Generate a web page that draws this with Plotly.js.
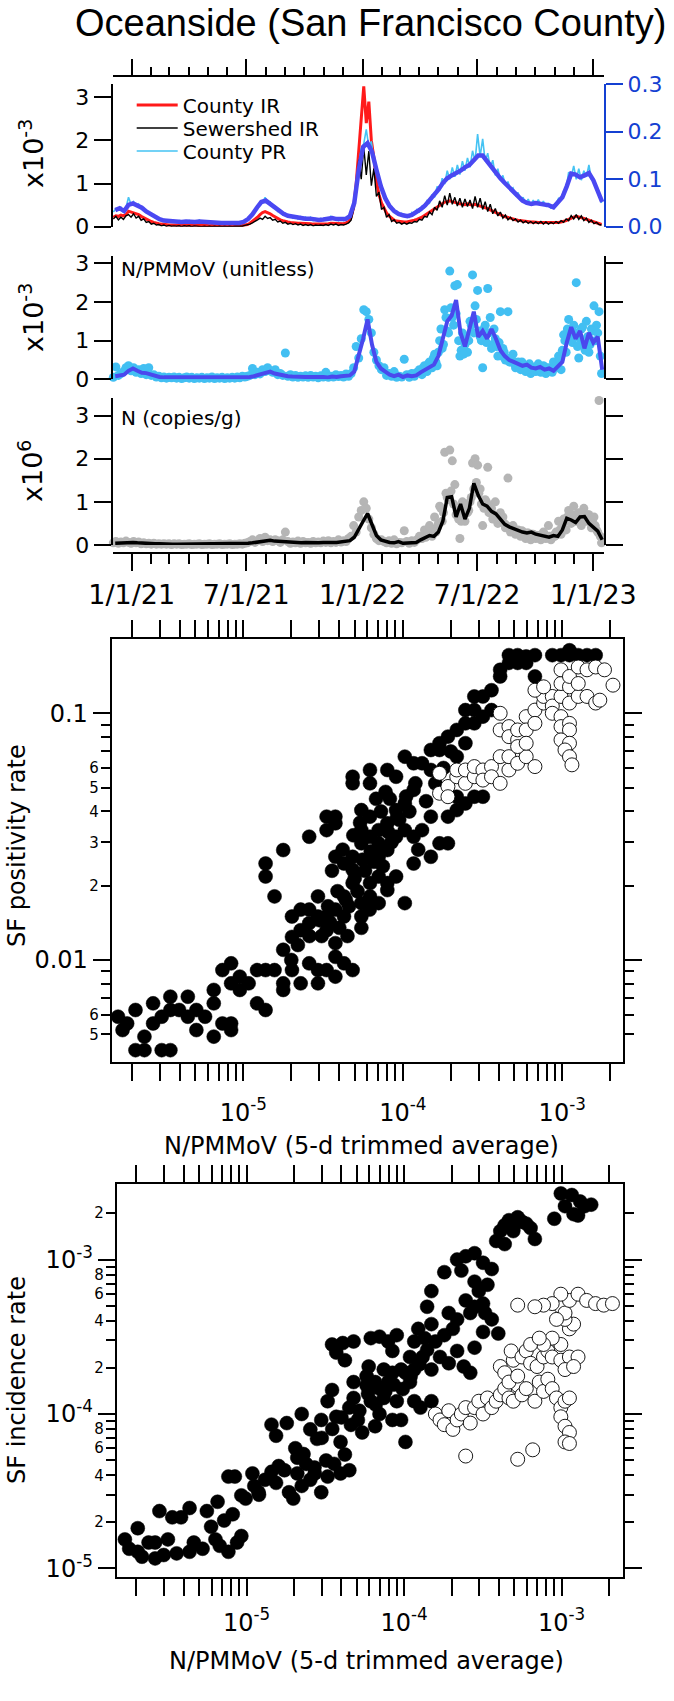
<!DOCTYPE html>
<html><head><meta charset="utf-8">
<script src="https://cdn.plot.ly/plotly-3.0.1.min.js"></script>
<style>html,body{margin:0;padding:0;background:#fff}#plot{width:674px;height:1701px}</style>
</head><body><div id="plot"></div>
<script>
// ---------------- DATA ----------------
// 4-day sampling starting 2020-12-03 ; weekly sampling starting 2020-12-06 ; extra 4-day samples from 2022-04-03
const start4 = '2020-12-03';
const start7 = '2020-12-06';
const start4b = '2022-04-03';

// County positivity rate (raw, right axis)
const countyPR = [
0.031,0.038,0.036,0.041,0.030,0.040,0.062,0.047,0.053,0.044,
0.048,0.038,0.040,0.030,0.031,0.024,0.024,0.018,0.019,0.013,
0.015,0.011,0.014,0.010,0.012,0.009,0.013,0.009,0.012,0.010,
0.013,0.009,0.012,0.010,0.014,0.009,0.011,0.008,0.011,0.008,
0.010,0.007,0.010,0.007,0.009,0.006,0.009,0.007,0.010,0.007,
0.010,0.009,0.013,0.014,0.022,0.025,0.036,0.038,0.052,0.050,
0.062,0.050,0.052,0.041,0.043,0.032,0.034,0.025,0.028,0.021,
0.024,0.018,0.022,0.016,0.021,0.015,0.020,0.015,0.020,0.013,
0.017,0.012,0.017,0.013,0.018,0.014,0.022,0.016,0.019,0.013,
0.018,0.013,0.019,0.018,0.030,0.045,0.085,0.125,0.165,0.175,
0.205,0.168,0.180,0.138,0.128,0.095,0.088,0.062,0.060,0.042,
0.043,0.031,0.033,0.025,0.028,0.021,0.025,0.020,0.030,0.026,
0.036,0.031,0.043,0.040,0.055,0.050,0.068,0.062,0.085,0.076,
0.102,0.090,0.118,0.100,0.125,0.105,0.130,0.110,0.138,0.118,
0.145,0.125,0.160,0.138,0.195,0.148,0.185,0.138,0.155,0.125,
0.140,0.108,0.122,0.098,0.108,0.088,0.095,0.078,0.082,0.066,
0.072,0.055,0.062,0.048,0.058,0.046,0.056,0.047,0.057,0.045,
0.054,0.042,0.050,0.038,0.046,0.048,0.060,0.058,0.075,0.080,
0.115,0.105,0.128,0.100,0.122,0.098,0.118,0.105,0.130,0.100,
0.098,0.080,0.068,0.050];

// County positivity rate, smoothed (weekly)
const countyPRavg = [
0.035,0.039,0.033,0.046,0.049,0.045,0.040,0.032,0.026,0.021,
0.016,0.013,0.012,0.011,0.010,0.010,0.011,0.010,0.010,0.011,
0.010,0.009,0.009,0.008,0.008,0.008,0.007,0.008,0.008,0.010,
0.016,0.026,0.040,0.052,0.055,0.048,0.040,0.032,0.027,0.023,
0.021,0.019,0.018,0.017,0.017,0.015,0.014,0.015,0.016,0.018,
0.016,0.015,0.016,0.022,0.050,0.120,0.168,0.176,0.158,0.120,
0.085,0.060,0.043,0.033,0.027,0.024,0.022,0.025,0.030,0.037,
0.045,0.055,0.067,0.078,0.092,0.102,0.108,0.112,0.118,0.125,
0.130,0.140,0.150,0.150,0.138,0.126,0.112,0.102,0.092,0.083,
0.072,0.063,0.055,0.050,0.048,0.050,0.049,0.048,0.045,0.041,
0.052,0.062,0.085,0.112,0.110,0.104,0.108,0.113,0.098,0.075,
0.052];

// County incidence rate (x1e-3)
const countyIR = [
0.22,0.25,0.24,0.27,0.25,0.28,0.36,0.34,0.33,0.30,
0.28,0.24,0.21,0.17,0.15,0.12,0.10,0.08,0.07,0.06,
0.05,0.05,0.04,
0.04,0.04,0.04,0.03,0.04,0.04,0.03,0.04,0.03,0.04,
0.04,0.03,0.03,0.03,0.03,0.02,0.03,0.02,0.02,0.02,
0.02,0.02,0.02,0.02,0.02,0.02,0.02,0.03,0.03,0.04,
0.05,0.08,0.12,0.17,0.22,0.28,0.33,0.35,0.33,0.30,
0.26,0.22,0.19,0.16,0.14,0.12,0.11,0.10,0.09,0.09,
0.08,0.08,0.08,0.07,0.07,0.07,0.06,0.06,0.06,0.06,
0.06,0.07,0.07,0.08,0.08,0.08,0.07,0.07,0.07,0.09,
0.12,
0.22,0.45,1.00,1.80,2.60,3.25,2.40,2.90,2.00,1.60,
1.05,0.75,0.55,0.42,0.32,0.25,0.19,0.15,0.13,0.12,
0.11,0.11,0.11,0.12,0.13,0.15,0.17,
0.19,0.22,0.26,0.30,0.34,0.38,0.42,0.47,0.51,0.55,
0.57,0.58,0.60,0.58,0.56,0.55,0.53,0.52,0.51,0.53,
0.52,0.50,0.52,0.50,0.48,0.47,0.45,0.42,0.39,0.36,
0.33,0.30,0.27,0.25,0.23,0.21,0.19,0.18,0.16,
0.15,0.14,0.13,0.12,0.12,0.11,0.11,0.10,0.10,0.10,
0.10,0.09,0.09,0.09,0.09,0.10,0.10,0.11,0.12,0.14,
0.17,0.20,0.22,0.24,0.23,0.21,0.19,0.17,0.15,0.13,
0.11,0.09,0.07,0.05];

// Sewershed incidence rate (x1e-3)
const sewershedIR = [
0.18,0.24,0.16,0.22,0.17,0.25,0.28,0.22,0.30,0.20,
0.24,0.15,0.18,0.10,0.12,0.06,0.08,0.04,0.05,0.02,
0.04,0.01,0.03,
0.01,0.02,0.01,0.02,0.00,0.02,0.01,0.02,0.00,0.02,
0.01,0.01,0.00,0.01,0.00,0.01,0.00,0.01,0.00,0.01,
0.00,0.01,0.00,0.01,0.00,0.01,0.01,0.02,0.01,0.03,
0.04,0.06,0.09,0.12,0.16,0.20,0.17,0.24,0.19,0.21,
0.15,0.17,0.11,0.13,0.08,0.10,0.06,0.08,0.05,0.07,
0.04,0.06,0.03,0.05,0.03,0.05,0.02,0.04,0.03,0.04,
0.03,0.05,0.03,0.06,0.04,0.06,0.03,0.05,0.04,0.06,
0.09,
0.15,0.40,0.80,1.55,1.10,1.85,1.20,1.75,0.95,1.35,
0.70,0.80,0.40,0.45,0.22,0.28,0.12,0.16,0.08,0.10,
0.06,0.09,0.06,0.09,0.08,0.12,0.11,
0.17,0.15,0.24,0.22,0.34,0.28,0.45,0.38,0.60,0.45,
0.72,0.50,0.78,0.52,0.68,0.48,0.66,0.45,0.64,0.47,
0.62,0.42,0.70,0.45,0.66,0.40,0.58,0.35,0.52,0.30,
0.42,0.25,0.34,0.20,0.27,0.16,0.22,0.14,0.18,
0.11,0.15,0.09,0.13,0.08,0.12,0.07,0.11,0.07,0.12,
0.06,0.11,0.06,0.10,0.07,0.12,0.08,0.14,0.10,0.18,
0.14,0.26,0.18,0.28,0.17,0.25,0.14,0.20,0.10,0.15,
0.07,0.10,0.05,0.04];

// N/PMMoV raw samples (x1e-3)
const npmmovRaw = [
0.05,0.32,0.10,0.15,0.20,0.30,0.35,0.22,0.30,0.18,
0.25,0.15,0.28,0.12,0.30,0.10,0.12,0.06,0.08,0.04,
0.06,0.03,0.05,
0.04,0.06,0.03,0.05,0.02,0.04,0.06,0.03,0.05,0.02,
0.04,0.03,0.05,0.02,0.04,0.03,0.06,0.02,0.04,0.03,
0.05,0.02,0.04,0.03,0.05,0.03,0.06,0.04,0.08,0.06,
0.08,0.10,0.28,0.12,0.18,0.14,0.25,0.20,0.30,0.22,
0.18,0.25,0.12,0.15,0.10,0.68,0.08,0.12,0.06,0.10,
0.05,0.08,0.06,0.09,0.05,0.10,0.06,0.08,0.04,0.09,
0.06,0.18,0.05,0.08,0.06,0.12,0.07,0.10,0.06,0.14,
0.08,
0.15,0.30,0.85,0.55,1.05,1.80,1.75,1.55,1.20,0.70,
0.50,0.35,0.25,0.30,0.10,0.15,0.08,0.20,0.05,0.08,
0.06,0.52,0.12,0.05,0.15,0.08,0.18,
0.25,0.12,0.35,0.20,0.45,0.30,0.65,0.35,1.00,0.80,
1.80,1.25,2.80,1.60,2.42,2.45,0.60,1.20,0.90,0.70,
1.50,2.70,1.90,2.30,1.10,0.30,1.40,2.35,1.60,0.90,
1.05,0.60,1.75,0.80,0.50,1.75,0.45,0.65,0.30,
0.45,0.25,0.40,0.20,0.35,0.15,0.30,0.20,0.40,0.18,
0.35,0.15,0.30,0.25,0.45,0.35,0.60,0.25,1.15,0.70,
1.55,1.20,1.40,2.50,0.55,1.30,0.90,1.50,0.70,1.30,
1.90,1.40,1.75,0.15];
// extra N/PMMoV samples, 2022-04-03 onward (x1e-3)
const npmmovRaw2 = [
0.18,0.30,0.25,0.40,0.35,0.55,0.45,
0.70,1.30,0.90,1.60,1.20,1.85,1.40,1.70,
1.00,0.75,0.65,1.10,1.00,1.40,1.20,1.55,
1.25,1.00,1.30,0.95,1.20,0.80,1.30,
0.85,0.95,0.60,0.70,0.55,0.45,0.50,0.40,
0.35,0.30,0.45,0.30,0.25,0.40,0.28,0.22,
0.30,0.25,0.20,0.32,0.22,0.28,0.18,
0.30,0.40,0.50,0.75,1.00,1.30,1.10,0.95,
1.20,0.85,1.05,1.35,0.75,1.10,0.90,1.25,
1.00,1.20,0.60];

// N/PMMoV trimmed average (weekly, x1e-3)
const npmmovAvg = [
0.08,0.10,0.12,0.22,0.28,0.22,0.17,0.16,0.12,0.10,
0.06,0.05,0.05,0.04,0.04,0.04,0.03,0.03,0.03,0.03,
0.03,0.03,0.03,0.03,0.03,0.03,0.03,0.03,0.04,0.05,
0.05,0.07,0.10,0.15,0.18,0.20,0.15,0.12,0.10,0.08,
0.07,0.06,0.07,0.06,0.06,0.05,0.06,0.06,0.05,0.07,
0.06,0.08,0.09,0.10,0.20,0.60,1.05,1.55,0.90,0.45,
0.28,0.20,0.12,0.08,0.12,0.06,0.10,0.08,0.10,0.18,
0.25,0.32,0.38,0.60,1.10,1.50,1.65,2.05,1.20,0.85,
1.30,1.75,1.10,1.25,1.05,1.30,1.05,0.75,0.60,0.50,
0.45,0.40,0.35,0.38,0.30,0.28,0.32,0.25,0.28,0.22,
0.35,0.45,0.95,1.35,1.05,1.25,0.80,1.20,0.95,1.10,
0.25];

// N (copies/g) raw samples (x1e6)
const nRaw = [
0.05,0.08,0.04,0.07,0.05,0.09,0.06,0.04,0.08,0.05,
0.07,0.03,0.05,0.03,0.04,0.02,0.04,0.02,0.03,0.02,
0.03,0.02,0.03,0.01,0.03,0.02,0.03,0.01,0.02,0.02,
0.03,0.01,0.02,0.02,0.03,0.01,0.02,0.02,0.03,0.01,
0.02,0.02,0.03,0.01,0.02,0.02,0.03,0.01,0.02,0.02,
0.03,0.02,0.04,
0.05,0.08,0.12,0.06,0.10,0.15,0.08,0.18,0.10,0.12,
0.08,0.12,0.10,0.06,0.12,0.30,0.08,0.04,0.07,0.05,
0.09,0.04,0.08,0.05,0.06,0.04,0.08,0.05,0.07,0.05,
0.09,0.06,0.10,0.05,0.08,0.06,0.12,0.07,0.10,0.08,
0.15,
0.20,0.45,0.30,0.65,0.80,1.00,0.85,0.60,0.40,0.25,
0.15,0.10,0.12,0.08,0.05,0.10,0.04,0.12,0.03,0.06,
0.05,0.33,0.08,0.04,0.10,0.06,0.12,
0.20,0.15,0.35,0.25,0.45,0.20,0.65,0.40,0.90,0.55,
2.15,1.10,2.20,1.95,1.40,0.80,0.15,1.00,0.55,0.75,
1.00,1.90,2.00,1.85,1.30,0.45,1.05,1.80,0.90,0.60,
1.00,0.50,0.75,0.65,0.40,1.55,0.30,0.45,0.25,
0.35,0.20,0.30,0.15,0.28,0.12,0.25,0.15,0.22,0.12,
0.30,0.15,0.45,0.12,0.22,0.30,0.55,0.25,0.60,0.35,
0.80,0.50,0.90,0.55,0.75,0.45,0.85,0.55,0.70,0.40,
0.65,0.35,3.35,0.05];
// extra N samples, 2022-04-03 onward (x1e6)
const nRaw2 = [
0.15,0.22,0.18,0.28,0.25,0.35,0.30,
0.50,0.85,0.75,1.20,1.05,1.25,0.95,0.70,
0.60,0.55,0.70,0.90,0.80,1.10,1.30,1.45,
1.20,0.95,0.85,1.00,0.75,0.85,0.70,
0.65,0.60,0.55,0.50,0.45,0.40,0.42,0.35,
0.30,0.28,0.33,0.25,0.28,0.22,0.25,0.20,
0.22,0.18,0.20,0.25,0.18,0.20,0.17,
0.20,0.25,0.35,0.45,0.55,0.65,0.60,0.55,
0.70,0.60,0.65,0.75,0.60,0.70,0.55,0.50,
0.45,0.30,0.20];

// N trimmed average (weekly, x1e6)
const nAvg = [
0.04,0.05,0.04,0.05,0.06,0.05,0.04,0.04,0.03,0.03,
0.03,0.02,0.02,0.02,0.02,0.02,0.02,0.02,0.02,0.02,
0.02,0.02,0.02,0.02,0.02,0.02,0.02,0.02,0.03,0.03,
0.04,0.05,0.07,0.09,0.10,0.11,0.09,0.08,0.07,0.06,
0.05,0.05,0.05,0.06,0.05,0.05,0.05,0.06,0.05,0.06,
0.06,0.07,0.08,0.10,
0.18,0.35,0.55,0.73,0.45,0.22,0.12,0.08,0.06,0.05,
0.08,0.04,0.05,0.04,0.06,
0.12,0.18,0.22,0.20,0.30,0.55,1.10,1.12,0.65,0.95,
0.60,0.85,1.43,1.15,0.95,0.90,0.78,0.72,0.60,0.48,
0.42,0.38,
0.32,0.30,0.28,0.30,0.25,0.22,0.20,0.18,0.22,0.20,
0.35,0.62,0.58,0.52,0.65,0.66,0.50,0.40,0.32,0.12];

// Scatter 1: N/PMMoV (x) vs SF positivity rate (y)
const posFilledX = [
1.64e-6,1.75e-6,1.87e-6,2.11e-6,2.11e-6,2.40e-6,2.40e-6,2.72e-6,2.72e-6,3.08e-6,
3.49e-6,3.49e-6,3.49e-6,3.96e-6,4.49e-6,4.49e-6,5.08e-6,5.08e-6,5.76e-6,6.53e-6,
6.53e-6,6.53e-6,7.40e-6,8.39e-6,8.39e-6,3.08e-6,7.40e-6,8.39e-6,8.39e-6,9.51e-6,
9.51e-6,1.08e-5,1.22e-5,1.22e-5,1.38e-5,1.38e-5,1.57e-5,1.78e-5,1.78e-5,2.02e-5,
2.29e-5,2.59e-5,2.94e-5,2.94e-5,3.33e-5,3.78e-5,4.28e-5,4.85e-5,1.78e-5,2.02e-5,
2.02e-5,2.29e-5,2.29e-5,2.59e-5,2.59e-5,2.94e-5,2.94e-5,3.33e-5,3.33e-5,3.78e-5,
3.78e-5,3.78e-5,4.28e-5,4.28e-5,4.85e-5,4.85e-5,5.50e-5,5.50e-5,6.23e-5,6.23e-5,
7.06e-5,7.06e-5,8.00e-5,8.00e-5,9.08e-5,1.03e-4,1.38e-5,1.38e-5,1.57e-5,1.78e-5,
2.59e-5,3.33e-5,3.33e-5,3.78e-5,3.78e-5,3.78e-5,4.28e-5,4.85e-5,4.85e-5,4.85e-5,
5.50e-5,5.50e-5,5.50e-5,6.23e-5,6.23e-5,6.23e-5,6.23e-5,7.06e-5,7.06e-5,7.06e-5,
8.00e-5,8.00e-5,8.00e-5,9.08e-5,9.08e-5,9.08e-5,1.03e-4,1.03e-4,1.03e-4,1.17e-4,
1.17e-4,1.17e-4,1.32e-4,1.32e-4,1.50e-4,1.50e-4,1.50e-4,1.70e-4,1.70e-4,1.92e-4,
1.92e-4,2.18e-4,2.18e-4,2.47e-4,2.81e-4,3.18e-4,1.17e-4,1.50e-4,1.70e-4,1.92e-4,
2.18e-4,2.18e-4,2.47e-4,2.47e-4,2.47e-4,2.81e-4,2.81e-4,2.81e-4,3.18e-4,3.18e-4,
3.60e-4,3.60e-4,4.08e-4,4.08e-4,4.63e-4,4.63e-4,5.25e-4,5.25e-4,5.94e-4,5.94e-4,
6.74e-4,6.74e-4,8.66e-4,9.82e-4,1.11e-3,1.11e-3,1.26e-3,1.43e-3,1.62e-3,
3.1e-5,3.5e-5,4.0e-5,4.6e-5,5.2e-5,5.8e-5,6.6e-5,7.5e-5,8.5e-5,9.5e-5,
1.1e-4,1.25e-4,6.8e-5,7.8e-5,
2.2e-5,2.6e-5,3.0e-5,3.4e-5,3.9e-5,4.4e-5,5.0e-5,5.6e-5,6.3e-5,7.1e-5,
8.1e-5,9.2e-5,1.05e-4,1.2e-4,2.0e-5,4.5e-5,5.5e-5,6.2e-5,3.6e-5,4.2e-5,
4.9e-5,5.4e-5,7.3e-5,8.3e-5,1.4e-4,1.6e-4,1.8e-4,2.0e-4];
const posFilledY = [
0.00589,0.00520,0.00553,0.00627,0.00431,0.00489,0.00431,0.00667,0.00553,0.00431,
0.00710,0.00627,0.00431,0.00627,0.00710,0.00589,0.00627,0.00520,0.00589,0.00756,
0.00667,0.00489,0.00553,0.00520,0.00553,0.00589,0.00910,0.00969,0.00804,0.00856,
0.00756,0.00804,0.00910,0.00667,0.00627,0.00910,0.00910,0.00804,0.00756,0.00910,
0.00804,0.00969,0.00804,0.00910,0.00910,0.00856,0.00969,0.00910,0.0110,0.0124,
0.0150,0.0160,0.0132,0.0160,0.0141,0.0181,0.0150,0.0132,0.0150,0.0117,
0.0103,0.0160,0.0181,0.0150,0.0205,0.0232,0.0170,0.0150,0.0181,0.0205,
0.0170,0.0218,0.0192,0.0205,0.0218,0.0170,0.0246,0.0218,0.0181,0.0279,
0.0316,0.0381,0.0336,0.0358,0.0262,0.0381,0.0246,0.0262,0.0553,0.0520,
0.0405,0.0336,0.0297,0.0381,0.0589,0.0520,0.0316,0.0336,0.0297,0.0262,
0.0358,0.0589,0.0279,0.0553,0.0405,0.0316,0.0431,0.0336,0.0667,0.0316,
0.0246,0.0489,0.0336,0.0627,0.0381,0.0589,0.0262,0.0297,0.0710,0.0381,
0.0297,0.0405,0.0459,0.0431,0.0459,0.0459,0.0627,0.0710,0.0756,0.0804,
0.0856,0.0667,0.0910,0.0756,0.103,0.0910,0.117,0.103,0.0969,0.117,
0.124,0.103,0.141,0.150,0.160,0.172,0.160,0.172,0.160,0.170,
0.172,0.141,0.172,0.172,0.180,0.172,0.172,0.172,0.172,
0.0125,0.0142,0.0135,0.0165,0.0190,0.0230,0.0250,0.0240,0.0300,0.0370,
0.0400,0.0280,0.0450,0.0480,
0.0115,0.0125,0.0145,0.0165,0.0190,0.0175,0.0215,0.0255,0.0275,0.0290,
0.0330,0.0380,0.0460,0.0520,0.0100,0.0125,0.0135,0.0160,0.0230,0.0280,
0.0320,0.0360,0.0400,0.0450,0.0440,0.0520,0.0600,0.0700];
const posOpenX = [
1.70e-4,1.70e-4,1.92e-4,1.92e-4,2.18e-4,2.18e-4,2.47e-4,2.47e-4,2.81e-4,2.81e-4,
3.18e-4,3.18e-4,3.60e-4,3.60e-4,4.08e-4,4.08e-4,4.63e-4,4.63e-4,5.25e-4,5.94e-4,
6.74e-4,4.08e-4,4.08e-4,4.63e-4,4.63e-4,5.25e-4,5.25e-4,5.25e-4,5.94e-4,5.94e-4,
5.94e-4,6.74e-4,6.74e-4,7.64e-4,7.64e-4,8.66e-4,8.66e-4,9.82e-4,9.82e-4,9.82e-4,
1.11e-3,1.11e-3,1.11e-3,1.26e-3,1.26e-3,1.26e-3,1.43e-3,1.43e-3,1.62e-3,1.62e-3,
1.84e-3,2.08e-3,1.72e-3,8.66e-4,9.82e-4,9.82e-4,1.11e-3,1.11e-3,9.82e-4,1.11e-3,
1.04e-3,1.11e-3,1.15e-3,6.74e-4,7.64e-4];
const posOpenY = [
0.0571,0.0474,0.0505,0.0459,0.0553,0.0589,0.0520,0.0589,0.0553,0.0608,
0.0589,0.0536,0.0608,0.0553,0.0667,0.0520,0.0589,0.0667,0.0627,0.0667,
0.0608,0.0856,0.100,0.0883,0.0804,0.0780,0.0856,0.0733,0.0969,0.0856,
0.0756,0.103,0.0910,0.110,0.117,0.117,0.107,0.117,0.132,0.150,
0.110,0.128,0.141,0.117,0.132,0.154,0.117,0.150,0.110,0.154,
0.150,0.130,0.113,0.100,0.0969,0.0883,0.0910,0.0856,0.0780,0.0756,
0.0710,0.0667,0.0618,0.124,0.128];

// Scatter 2: N/PMMoV (x) vs SF incidence rate (y)
const incFilledX = [
1.69e-6,1.80e-6,2.04e-6,2.17e-6,2.39e-6,2.63e-6,2.80e-6,2.98e-6,3.17e-6,3.38e-6,
3.60e-6,3.84e-6,4.35e-6,4.63e-6,5.26e-6,5.60e-6,5.96e-6,6.35e-6,6.55e-6,6.76e-6,
7.21e-6,7.67e-6,8.17e-6,8.71e-6,9.27e-6,2.04e-6,2.63e-6,4.35e-6,
7.67e-6,8.43e-6,9.27e-6,9.87e-6,1.09e-5,1.12e-5,1.19e-5,1.31e-5,1.44e-5,1.54e-5,
1.74e-5,1.86e-5,1.98e-5,2.10e-5,2.24e-5,2.39e-5,2.54e-5,2.71e-5,2.98e-5,3.27e-5,
3.60e-5,3.95e-5,4.49e-5,
1.44e-5,1.54e-5,1.80e-5,2.04e-5,2.10e-5,2.24e-5,2.54e-5,2.80e-5,2.98e-5,3.27e-5,
3.49e-5,3.71e-5,3.95e-5,4.21e-5,4.49e-5,4.78e-5,5.09e-5,5.42e-5,5.78e-5,6.15e-5,
6.55e-5,6.98e-5,7.43e-5,7.92e-5,8.43e-5,8.98e-5,9.57e-5,1.02e-4,1.16e-4,1.27e-4,
3.49e-5,3.71e-5,4.21e-5,4.08e-5,4.78e-5,5.96e-5,6.15e-5,6.98e-5,7.92e-5,8.43e-5,
8.98e-5,1.02e-4,1.09e-4,1.16e-4,1.23e-4,1.35e-4,1.49e-4,1.58e-4,1.80e-4,2.04e-4,
2.17e-4,2.39e-4,2.63e-4,2.80e-4,3.17e-4,3.60e-4,3.96e-4,
5.78e-5,6.55e-5,7.43e-5,8.43e-5,9.57e-5,1.09e-4,1.16e-4,1.31e-4,1.49e-4,1.69e-4,
1.92e-4,4.78e-5,6.98e-5,1.49e-4,
1.40e-4,1.49e-4,1.80e-4,2.17e-4,2.31e-4,2.46e-4,2.80e-4,2.80e-4,2.98e-4,3.17e-4,
3.17e-4,3.38e-4,3.60e-4,3.84e-4,4.08e-4,4.35e-4,4.63e-4,4.93e-4,5.26e-4,5.60e-4,
5.96e-4,6.35e-4,6.76e-4,4.93e-4,4.35e-4,3.27e-4,2.63e-4,2.17e-4,1.92e-4,2.46e-4,
2.80e-4,
8.98e-4,9.88e-4,1.05e-3,1.16e-3,1.19e-3,1.31e-3,1.40e-3,1.54e-3,1.27e-3,
3.0e-5,3.5e-5,4.0e-5,4.6e-5,5.2e-5,5.9e-5,6.6e-5,7.6e-5,8.6e-5,9.8e-5,
1.1e-4,1.25e-4,1.4e-4,2.3e-5,2.7e-5,3.2e-5,1.2e-5,1.6e-5];
const incFilledY = [
1.54e-5,1.34e-5,1.82e-5,1.19e-5,1.47e-5,1.16e-5,2.35e-5,1.22e-5,1.54e-5,2.14e-5,
1.25e-5,2.14e-5,2.46e-5,1.47e-5,1.34e-5,2.35e-5,1.86e-5,1.54e-5,2.70e-5,1.40e-5,
2.04e-5,1.28e-5,2.24e-5,1.47e-5,1.62e-5,1.28e-5,1.47e-5,1.28e-5,
3.93e-5,3.93e-5,2.97e-5,2.83e-5,4.12e-5,3.42e-5,3.11e-5,3.75e-5,4.22e-5,3.58e-5,
4.32e-5,3.11e-5,2.83e-5,4.12e-5,3.42e-5,4.75e-5,3.75e-5,4.12e-5,3.11e-5,3.93e-5,
4.75e-5,4.12e-5,4.32e-5,
8.53e-5,7.23e-5,8.73e-5,6.00e-5,5.21e-5,1.00e-4,7.95e-5,6.90e-5,9.15e-5,1.21e-4,
1.43e-4,9.59e-5,6.59e-5,5.46e-5,1.10e-4,1.27e-4,9.15e-5,7.59e-5,1.53e-4,1.21e-4,
8.33e-5,1.00e-4,1.27e-4,1.61e-4,9.15e-5,1.21e-4,9.15e-5,6.59e-5,1.21e-4,1.10e-4,
2.82e-4,2.50e-4,2.23e-4,2.88e-4,2.95e-4,2.03e-4,3.10e-4,3.17e-4,2.95e-4,2.56e-4,
3.24e-4,1.85e-4,2.34e-4,2.95e-4,3.56e-4,3.10e-4,3.82e-4,2.95e-4,3.24e-4,3.56e-4,
2.56e-4,2.03e-4,1.85e-4,2.69e-4,3.40e-4,4.10e-4,3.32e-4,
1.76e-4,1.61e-4,1.94e-4,1.85e-4,1.94e-4,1.61e-4,1.94e-4,2.34e-4,1.94e-4,2.34e-4,
2.13e-4,1.61e-4,1.46e-4,1.21e-4,
4.95e-4,6.25e-4,8.29e-4,1.00e-3,8.49e-4,1.05e-3,1.10e-3,7.20e-4,6.25e-4,9.54e-4,
5.19e-4,6.87e-4,8.69e-4,1.32e-3,1.53e-3,1.67e-3,1.80e-3,1.60e-3,1.88e-3,1.76e-3,
1.71e-3,1.60e-3,1.36e-3,1.53e-3,1.26e-3,4.51e-4,4.51e-4,4.10e-4,4.51e-4,5.44e-4,
4.95e-4,
1.84e-3,2.68e-3,2.22e-3,2.62e-3,1.97e-3,2.38e-3,2.22e-3,2.27e-3,1.93e-3,
7.0e-5,8.0e-5,9.5e-5,8.5e-5,1.05e-4,1.35e-4,1.15e-4,1.40e-4,1.55e-4,1.45e-4,
1.75e-4,2.1e-4,2.6e-4,5.5e-5,4.5e-5,5.0e-5,3.0e-5,4.6e-5];
const incOpenX = [
1.58e-4,1.69e-4,1.80e-4,1.92e-4,2.04e-4,2.17e-4,2.31e-4,2.46e-4,2.63e-4,2.80e-4,
2.98e-4,3.17e-4,3.38e-4,3.60e-4,3.84e-4,4.08e-4,4.35e-4,4.63e-4,4.93e-4,5.26e-4,
5.60e-4,5.96e-4,6.76e-4,7.21e-4,7.67e-4,8.17e-4,8.71e-4,9.27e-4,9.88e-4,1.05e-3,
1.12e-3,9.88e-4,1.05e-3,1.12e-3,1.05e-3,4.08e-4,4.35e-4,4.63e-4,5.26e-4,4.93e-4,
4.78e-4,5.60e-4,5.96e-4,6.35e-4,6.98e-4,7.67e-4,8.17e-4,8.71e-4,9.88e-4,1.12e-3,
1.27e-3,1.05e-3,1.19e-3,9.88e-4,1.12e-3,1.19e-3,1.05e-3,8.71e-4,7.67e-4,6.35e-4,
7.21e-4,9.88e-4,1.05e-3,1.12e-3,1.27e-3,1.44e-3,1.64e-3,1.85e-3,2.10e-3,9.88e-4,
8.71e-4,7.67e-4,6.76e-4,5.26e-4,9.27e-4,2.46e-4,5.26e-4,6.55e-4,1.12e-3];
const incOpenY = [
1.00e-4,9.15e-5,8.53e-5,1.05e-4,7.95e-5,9.15e-5,1.00e-4,1.10e-4,8.73e-5,1.10e-4,
1.21e-4,1.00e-4,1.27e-4,1.10e-4,1.21e-4,1.33e-4,1.46e-4,1.27e-4,1.21e-4,1.53e-4,
1.33e-4,1.46e-4,1.21e-4,1.61e-4,1.40e-4,1.68e-4,1.46e-4,1.27e-4,1.10e-4,1.21e-4,
1.27e-4,9.59e-5,8.33e-5,7.59e-5,6.59e-5,2.03e-4,1.85e-4,1.61e-4,1.76e-4,2.23e-4,
2.56e-4,2.34e-4,2.56e-4,2.13e-4,2.03e-4,2.34e-4,2.56e-4,2.34e-4,2.23e-4,2.34e-4,
2.34e-4,1.94e-4,2.03e-4,2.82e-4,3.56e-4,3.82e-4,4.10e-4,3.10e-4,2.82e-4,2.82e-4,
3.10e-4,4.95e-4,4.51e-4,5.44e-4,5.97e-4,5.44e-4,5.19e-4,5.07e-4,5.19e-4,5.97e-4,
5.19e-4,5.07e-4,4.95e-4,5.07e-4,4.10e-4,5.34e-5,5.09e-5,5.86e-5,6.44e-5];

// Date tick labels
const dateTickVals = ['2021-01-01','2021-07-01','2022-01-01','2022-07-01','2023-01-01'];
const dateTickText = ['1/1/21','7/1/21','1/1/22','7/1/22','1/1/23'];

// ---------------- BUILD ----------------
function makeDates(start, stepDays, n) {
  const t0 = Date.parse(start + 'T00:00:00Z');
  const out = [];
  for (let i = 0; i < n; i++) out.push(new Date(t0 + i * stepDays * 86400000).toISOString().slice(0, 10));
  return out;
}
const W = 674, H = 1701;
const fx = p => p / W;
const fy = p => 1 - p / H;
const F = 'DejaVu Sans, Arial, sans-serif';
const BLUEAX = '#1440d2';
const xRange = ['2020-12-02', '2023-01-17 21:00'];

function logMinor(decades, maxV, minV) {
  const v = [];
  decades.forEach(d => { for (let m = 2; m <= 9; m++) { const t = m * Math.pow(10, d); if (t <= maxV && t >= minV) v.push(t); } });
  return v;
}
// invisible helper trace so that an axis without data is still drawn
const anchorTrace = (xa, ya, x, y) => ({x: [x], y: [y], xaxis: xa, yaxis: ya, type: 'scatter', mode: 'markers',
  marker: {opacity: 0, size: 1}, hoverinfo: 'skip', showlegend: false});

const lightBlue = '#42bff2', gray = '#b5b5b5';
const traces = [
  {x: makeDates(start4, 4, countyIR.length), y: countyIR, xaxis: 'x', yaxis: 'y', type: 'scatter', mode: 'lines',
   name: 'County IR', legend: 'legend', line: {color: '#ff1a1a', width: 3}, cliponaxis: false},
  {x: makeDates(start4, 4, sewershedIR.length), y: sewershedIR, xaxis: 'x', yaxis: 'y', type: 'scatter', mode: 'lines',
   name: 'Sewershed IR', legend: 'legend2', line: {color: '#000000', width: 1.4}, cliponaxis: false},
  {x: makeDates(start4, 4, countyPR.length), y: countyPR, xaxis: 'x', yaxis: 'y2', type: 'scatter', mode: 'lines',
   name: 'County PR', legend: 'legend3', line: {color: '#45c3f3', width: 1.6}, cliponaxis: false},
  {x: makeDates(start7, 7, countyPRavg.length), y: countyPRavg, xaxis: 'x', yaxis: 'y2', type: 'scatter', mode: 'lines',
   name: 'County PR avg', showlegend: false, line: {color: '#4a48f2', width: 4.5}, cliponaxis: false},
  {x: makeDates(start4, 4, npmmovRaw.length), y: npmmovRaw, xaxis: 'x', yaxis: 'y3', type: 'scatter', mode: 'markers',
   showlegend: false, marker: {color: lightBlue, size: 9}, cliponaxis: false},
  {x: makeDates(start4b, 4, npmmovRaw2.length), y: npmmovRaw2, xaxis: 'x', yaxis: 'y3', type: 'scatter', mode: 'markers',
   showlegend: false, marker: {color: lightBlue, size: 9}, cliponaxis: false},
  {x: makeDates(start7, 7, npmmovAvg.length), y: npmmovAvg, xaxis: 'x', yaxis: 'y3', type: 'scatter', mode: 'lines',
   showlegend: false, line: {color: '#4a48ee', width: 4}, cliponaxis: false},
  {x: makeDates(start4, 4, nRaw.length), y: nRaw, xaxis: 'x', yaxis: 'y4', type: 'scatter', mode: 'markers',
   showlegend: false, marker: {color: gray, size: 9}, cliponaxis: false},
  {x: makeDates(start4b, 4, nRaw2.length), y: nRaw2, xaxis: 'x', yaxis: 'y4', type: 'scatter', mode: 'markers',
   showlegend: false, marker: {color: gray, size: 9}, cliponaxis: false},
  {x: makeDates(start7, 7, nAvg.length), y: nAvg, xaxis: 'x', yaxis: 'y4', type: 'scatter', mode: 'lines',
   showlegend: false, line: {color: '#000000', width: 3.5}, cliponaxis: false},
  {x: posFilledX, y: posFilledY, xaxis: 'x3', yaxis: 'y5', type: 'scatter', mode: 'markers', showlegend: false,
   marker: {color: '#000', size: 14, line: {color: '#000', width: 0.5}}, cliponaxis: false},
  {x: posOpenX, y: posOpenY, xaxis: 'x3', yaxis: 'y5', type: 'scatter', mode: 'markers', showlegend: false,
   marker: {color: '#fff', size: 14, line: {color: '#000', width: 0.9}}, cliponaxis: false},
  {x: incFilledX, y: incFilledY, xaxis: 'x4', yaxis: 'y7', type: 'scatter', mode: 'markers', showlegend: false,
   marker: {color: '#000', size: 14, line: {color: '#000', width: 0.5}}, cliponaxis: false},
  {x: incOpenX, y: incOpenY, xaxis: 'x4', yaxis: 'y7', type: 'scatter', mode: 'markers', showlegend: false,
   marker: {color: '#fff', size: 14, line: {color: '#000', width: 0.9}}, cliponaxis: false},
  anchorTrace('x2', 'y', '2021-01-01', 0),
  anchorTrace('x3', 'y6', 1e-5, 0.01),
  anchorTrace('x4', 'y8', 1e-5, 1e-4)
];

const panelX = [fx(112.7), fx(604)];
const axBase = {showgrid: false, zeroline: false, linecolor: '#000', linewidth: 2, tickcolor: '#000', tickwidth: 2,
  ticks: 'outside', fixedrange: true};
const tickFontPanel = {family: F, size: 22, color: '#000'};

const sc1x = [fx(111.7), fx(622.7)], sc1y = [fy(1061.7), fy(639)];
const sc2x = [fx(116.7), fx(622.8)], sc2y = [fy(1576.7), fy(1183.5)];
const sc1xr = [-5.825, -2.621], sc1yr = [Math.log10(0.00387), Math.log10(0.2)];
const sc2xr = [-5.824, -2.612], sc2yr = [-5.054, -2.507];
const xMinor = logMinor([-6, -5, -4, -3], 2.3e-3, 1.5e-6);
const sup = e => '10<sup>' + e + '</sup>';
const legBase = {x: fx(131.7), xanchor: 'left', yanchor: 'middle', bgcolor: 'rgba(0,0,0,0)', borderwidth: 0,
  font: {family: F, size: 20, color: '#000'}, itemwidth: 41, tracegroupgap: 0};

const layout = {
  width: W, height: H, margin: {l: 0, r: 0, t: 0, b: 0}, paper_bgcolor: '#fff', plot_bgcolor: 'rgba(0,0,0,0)',
  font: {family: F, color: '#000'},
  showlegend: true,
  legend: Object.assign({}, legBase, {y: fy(105)}),
  legend2: Object.assign({}, legBase, {y: fy(128)}),
  legend3: Object.assign({}, legBase, {y: fy(151)}),
  xaxis: Object.assign({}, axBase, {type: 'date', domain: panelX, range: xRange, anchor: 'free', position: fy(553.3),
    tickmode: 'array', tickvals: dateTickVals, ticktext: dateTickText, ticklen: 17,
    tickfont: {family: F, size: 27, color: '#000'}, showline: true,
    minor: {ticks: 'outside', dtick: 'M1', tick0: '2020-12-01', ticklen: 10, tickwidth: 2, tickcolor: '#000'}}),
  xaxis2: Object.assign({}, axBase, {type: 'date', overlaying: 'x', side: 'top', domain: panelX, range: xRange,
    anchor: 'free', position: fy(76), tickmode: 'array', tickvals: dateTickVals, ticklen: 16, showticklabels: false,
    showline: true, minor: {ticks: 'outside', dtick: 'M1', tick0: '2020-12-01', ticklen: 8, tickwidth: 2, tickcolor: '#000'}}),
  yaxis: Object.assign({}, axBase, {domain: [fy(226.7), fy(84.3)], range: [0, 3.3], anchor: 'x', showline: true,
    tickmode: 'array', tickvals: [0, 1, 2, 3], ticklen: 17, tickfont: tickFontPanel}),
  yaxis2: Object.assign({}, axBase, {overlaying: 'y', side: 'right', anchor: 'x', range: [0, 0.3], showline: true,
    linecolor: BLUEAX, tickcolor: BLUEAX, tickmode: 'array', tickvals: [0, 0.1, 0.2, 0.3], tickformat: '.1f',
    ticklen: 17, tickfont: {family: F, size: 22, color: BLUEAX}}),
  yaxis3: Object.assign({}, axBase, {domain: [fy(379.3), fy(256)], range: [0, 3.19], anchor: 'x', showline: true,
    mirror: 'ticks', tickmode: 'array', tickvals: [0, 1, 2, 3], ticklen: 17, tickfont: tickFontPanel}),
  yaxis4: Object.assign({}, axBase, {domain: [fy(545), fy(398.3)], range: [0, 3.4], anchor: 'x', showline: true,
    mirror: 'ticks', tickmode: 'array', tickvals: [0, 1, 2, 3], ticklen: 17, tickfont: tickFontPanel}),
  // scatter 1
  xaxis3: Object.assign({}, axBase, {type: 'log', domain: sc1x, range: sc1xr, anchor: 'y5', showline: true,
    mirror: 'allticks', tickmode: 'array', tickvals: [1e-5, 1e-4, 1e-3], ticktext: [sup('-5'), sup('-4'), sup('-3')],
    ticklen: 17, ticklabelstandoff: 11, tickfont: {family: F, size: 24, color: '#000'},
    minor: {ticks: 'outside', tickmode: 'array', tickvals: xMinor, ticklen: 9, tickwidth: 2, tickcolor: '#000'}}),
  yaxis5: Object.assign({}, axBase, {type: 'log', domain: sc1y, range: sc1yr, anchor: 'x3', showline: true,
    mirror: 'allticks', tickmode: 'array', tickvals: [0.01, 0.1], ticktext: ['0.01', '0.1'], ticklen: 17,
    tickfont: {family: F, size: 24, color: '#000'},
    minor: {ticks: 'outside', tickmode: 'array', tickvals: logMinor([-3, -2], 0.19, 0.0045), ticklen: 9, tickwidth: 2, tickcolor: '#000'}}),
  yaxis6: Object.assign({}, axBase, {type: 'log', overlaying: 'y5', anchor: 'x3', side: 'left', range: sc1yr, showline: false,
    tickmode: 'array', tickvals: [0.005, 0.006, 0.02, 0.03, 0.04, 0.05, 0.06], ticktext: ['5', '6', '2', '3', '4', '5', '6'],
    ticklen: 9, tickfont: {family: F, size: 15, color: '#000'}}),
  // scatter 2
  xaxis4: Object.assign({}, axBase, {type: 'log', domain: sc2x, range: sc2xr, anchor: 'y7', showline: true,
    mirror: 'allticks', tickmode: 'array', tickvals: [1e-5, 1e-4, 1e-3], ticktext: [sup('-5'), sup('-4'), sup('-3')],
    ticklen: 17, ticklabelstandoff: 6, tickfont: {family: F, size: 24, color: '#000'},
    minor: {ticks: 'outside', tickmode: 'array', tickvals: xMinor, ticklen: 9, tickwidth: 2, tickcolor: '#000'}}),
  yaxis7: Object.assign({}, axBase, {type: 'log', domain: sc2y, range: sc2yr, anchor: 'x4', showline: true,
    mirror: 'allticks', tickmode: 'array', tickvals: [1e-5, 1e-4, 1e-3], ticktext: [sup('-5'), sup('-4'), sup('-3')],
    ticklen: 17, tickfont: {family: F, size: 24, color: '#000'},
    minor: {ticks: 'outside', tickmode: 'array', tickvals: logMinor([-5, -4, -3], 2.5e-3, 1e-5), ticklen: 9, tickwidth: 2, tickcolor: '#000'}}),
  yaxis8: Object.assign({}, axBase, {type: 'log', overlaying: 'y7', anchor: 'x4', side: 'left', range: sc2yr, showline: false,
    tickmode: 'array', tickvals: [2e-5, 4e-5, 6e-5, 8e-5, 2e-4, 4e-4, 6e-4, 8e-4, 2e-3],
    ticktext: ['2', '4', '6', '8', '2', '4', '6', '8', '2'], ticklen: 9, tickfont: {family: F, size: 15, color: '#000'}}),
  annotations: [
    {text: 'Oceanside (San Francisco County)', x: fx(370), y: 1, xref: 'paper', yref: 'paper', showarrow: false,
     xanchor: 'center', yanchor: 'top', font: {family: 'Liberation Sans, Arial, sans-serif', size: 38, color: '#000'}},
    {text: 'x10<sup>-3</sup>', x: fx(31), y: fy(154), xref: 'paper', yref: 'paper', showarrow: false, textangle: -90,
     xanchor: 'center', yanchor: 'middle', font: {family: F, size: 27, color: '#000'}},
    {text: 'x10<sup>-3</sup>', x: fx(31), y: fy(318), xref: 'paper', yref: 'paper', showarrow: false, textangle: -90,
     xanchor: 'center', yanchor: 'middle', font: {family: F, size: 27, color: '#000'}},
    {text: 'x10<sup>6</sup>', x: fx(31), y: fy(471), xref: 'paper', yref: 'paper', showarrow: false, textangle: -90,
     xanchor: 'center', yanchor: 'middle', font: {family: F, size: 27, color: '#000'}},
    {text: 'N/PMMoV (unitless)', x: fx(119), y: fy(269), xref: 'paper', yref: 'paper', showarrow: false,
     xanchor: 'left', yanchor: 'middle', font: {family: F, size: 20, color: '#000'}},
    {text: 'N (copies/g)', x: fx(119), y: fy(418), xref: 'paper', yref: 'paper', showarrow: false,
     xanchor: 'left', yanchor: 'middle', font: {family: F, size: 20, color: '#000'}},
    {text: 'N/PMMoV (5-d trimmed average)', x: fx(361), y: fy(1146), xref: 'paper', yref: 'paper', showarrow: false,
     xanchor: 'center', yanchor: 'middle', font: {family: F, size: 24, color: '#000'}},
    {text: 'N/PMMoV (5-d trimmed average)', x: fx(366), y: fy(1661), xref: 'paper', yref: 'paper', showarrow: false,
     xanchor: 'center', yanchor: 'middle', font: {family: F, size: 24, color: '#000'}},
    {text: 'SF positivity rate', x: fx(17), y: fy(846), xref: 'paper', yref: 'paper', showarrow: false, textangle: -90,
     xanchor: 'center', yanchor: 'middle', font: {family: F, size: 24, color: '#000'}},
    {text: 'SF incidence rate', x: fx(17), y: fy(1380), xref: 'paper', yref: 'paper', showarrow: false, textangle: -90,
     xanchor: 'center', yanchor: 'middle', font: {family: F, size: 24, color: '#000'}}
  ]
};

Plotly.newPlot('plot', traces, layout, {displayModeBar: false, responsive: false});
</script></body></html>
